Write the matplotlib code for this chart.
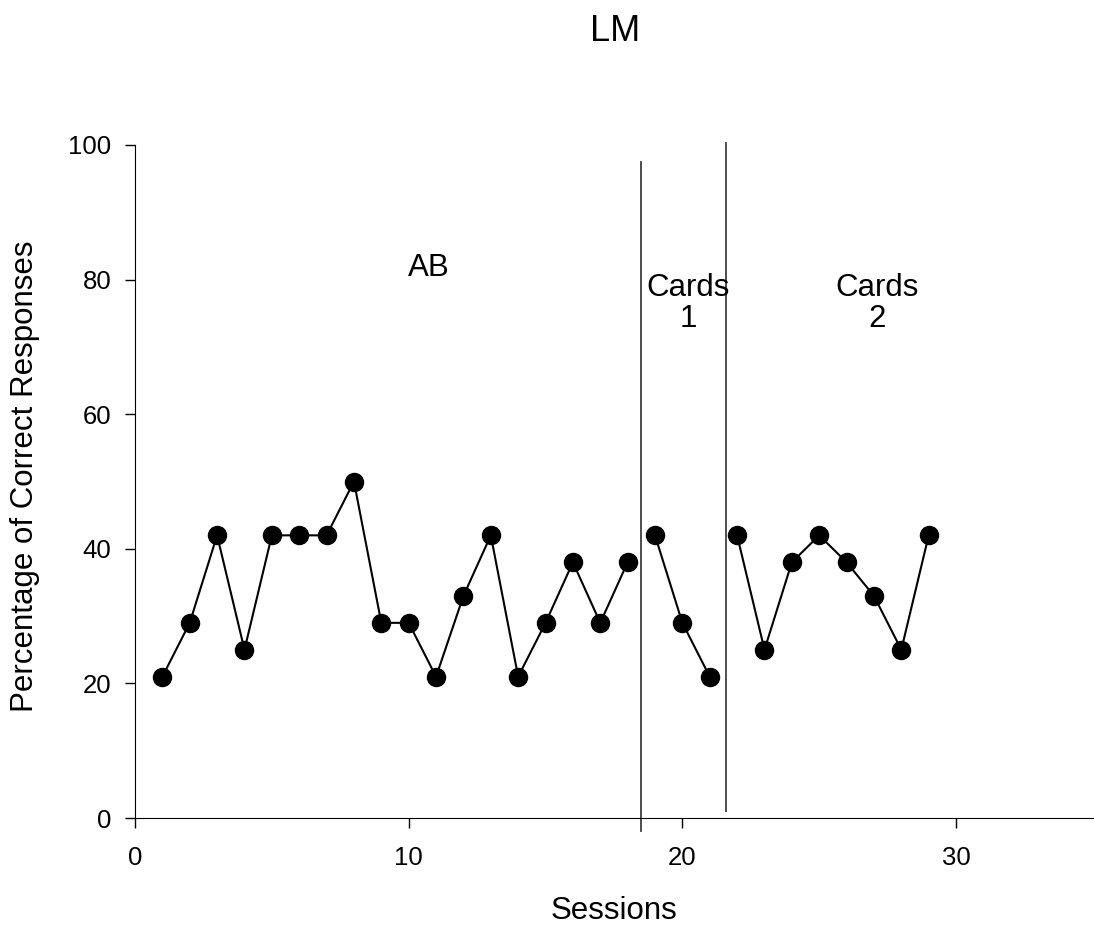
import matplotlib
matplotlib.use('Agg')
import matplotlib.pyplot as plt
import numpy as np

plt.rcParams['font.family'] = ['Liberation Sans', 'DejaVu Sans']

# data
sessions_ab = [1, 2, 3, 4, 5, 6, 7, 8, 9, 10, 11, 12, 13, 14, 15, 16, 17, 18]
pct_ab = [21, 29, 42, 25, 42, 42, 42, 50, 29, 29, 21, 33, 42, 21, 29, 38, 29, 38]
sessions_c1 = [19, 20, 21]
pct_c1 = [42, 29, 21]
sessions_c2 = [22, 23, 24, 25, 26, 27, 28, 29]
pct_c2 = [42, 25, 38, 42, 38, 33, 25, 42]
phase_x = [18.5, 21.6]

fig = plt.figure(figsize=(10.94, 9.3), dpi=100)
ax = fig.add_axes([0.1234, 0.1204, 0.8756, 0.7237])

for xs, ys in [(sessions_ab, pct_ab), (sessions_c1, pct_c1), (sessions_c2, pct_c2)]:
    ax.plot(xs, ys, color='black', lw=1.5, marker='o', ms=13, mfc='black', mec='black')

ax.plot([phase_x[0], phase_x[0]], [-1.9, 97.5], color='#404040', lw=1.3, clip_on=False)
ax.plot([phase_x[1], phase_x[1]], [1.0, 100.3], color='#404040', lw=1.3, clip_on=False)

ax.text(10.75, 81.7, 'AB', fontsize=22.5, ha='center', va='center')
ax.text(20.2, 76.5, 'Cards\n1', fontsize=22.5, ha='center', va='center', linespacing=1.05)
ax.text(27.1, 76.5, 'Cards\n2', fontsize=22.5, ha='center', va='center', linespacing=1.05)

ax.set_xlim(0, 35)
ax.set_ylim(0, 100)
ax.set_xticks([0, 10, 20, 30])
ax.set_yticks([0, 20, 40, 60, 80, 100])
ax.spines['top'].set_visible(False)
ax.spines['right'].set_visible(False)
ax.tick_params(direction='out', length=7, width=1, labelsize=18.5)
ax.tick_params(axis='x', pad=13)
ax.tick_params(axis='y', pad=10)

fig.text(0.562, 0.966, 'LM', fontsize=26, ha='center', va='center')
fig.text(0.561, 0.02, 'Sessions', fontsize=22.5, ha='center', va='center')
fig.text(0.023, 0.488, 'Percentage of Correct Responses', fontsize=22.5,
         ha='center', va='center', rotation=90)

fig.savefig('out.png', dpi=100)
